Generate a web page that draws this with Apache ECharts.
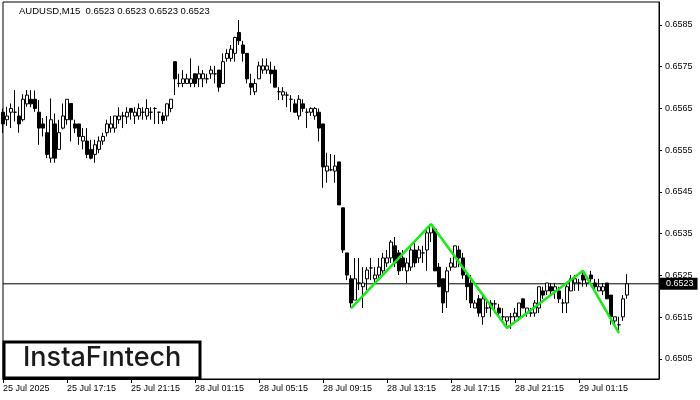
<!DOCTYPE html>
<html><head><meta charset="utf-8">
<script src="https://cdn.jsdelivr.net/npm/echarts@6/dist/echarts.min.js"></script>
<style>html,body{margin:0;padding:0;background:#fff}#c{width:700px;height:400px}</style>
</head><body><div id="c"></div>
<script>
const tickLabels = ['25 Jul 2025','25 Jul 17:15','25 Jul 21:15','28 Jul 01:15','28 Jul 05:15','28 Jul 09:15','28 Jul 13:15','28 Jul 17:15','28 Jul 21:15','29 Jul 01:15'];
const priceTicks = [0.6505,0.6515,0.6525,0.6535,0.6545,0.6555,0.6565,0.6575,0.6585];
const slotCount = 165;
const categories = Array.from({length: slotCount}, (_, i) => String(i));

const opens = [
0.65641,0.65623,0.65641,0.65641,0.65632,0.65623,0.65661,0.65672,0.65672,0.65641,
0.65613,0.65592,0.65531,0.65613,0.65552,0.65603,0.65623,0.65662,0.65613,0.65613,
0.65572,0.65572,0.65552,0.65540,0.65552,0.65572,0.65592,0.65603,0.65603,0.65623,
0.65632,0.65630,0.65650,0.65632,0.65632,0.65641,0.65632,0.65641,0.65650,0.65641,
0.65632,0.65632,0.65650,0.65762,0.65710,0.65710,0.65710,0.65710,0.65733,0.65721,
0.65721,0.65721,0.65733,0.65733,0.65742,0.65710,0.65770,0.65770,0.65782,0.65832,
0.65802,0.65782,0.65710,0.65690,0.65721,0.65742,0.65742,0.65742,0.65742,0.65690,
0.65682,0.65682,0.65672,0.65661,0.65632,0.65661,0.65641,0.65641,0.65632,0.65641,
0.65613,0.65500,0.65503,0.65500,0.65522,0.65412,0.65304,0.65242,0.65191,0.65232,
0.65223,0.65242,0.65268,0.65242,0.65251,0.65261,0.65280,0.65292,0.65321,0.65304,
0.65292,0.65261,0.65270,0.65311,0.65292,0.65304,0.65311,0.65352,0.65361,0.65270,
0.65242,0.65211,0.65270,0.65270,0.65311,0.65292,0.65251,0.65232,0.65172,0.65194,
0.65151,0.65172,0.65184,0.65182,0.65172,0.65151,0.65141,0.65151,0.65151,0.65151,
0.65194,0.65160,0.65160,0.65160,0.65172,0.65213,0.65213,0.65223,0.65213,0.65213,
0.65184,0.65184,0.65213,0.65232,0.65232,0.65251,0.65232,0.65251,0.65232,0.65213,
0.65213,0.65232,0.65203,0.65141,0.65132,0.65151,0.65203];
const closes = [
0.65613,0.65632,0.65650,0.65641,0.65613,0.65672,0.65682,0.65661,0.65650,0.65603,
0.65603,0.65540,0.65623,0.65531,0.65592,0.65632,0.65672,0.65623,0.65603,0.65583,
0.65583,0.65540,0.65531,0.65563,0.65572,0.65583,0.65613,0.65613,0.65632,0.65632,
0.65632,0.65641,0.65641,0.65641,0.65650,0.65641,0.65650,0.65641,0.65650,0.65641,
0.65621,0.65661,0.65672,0.65721,0.65710,0.65721,0.65721,0.65721,0.65710,0.65733,
0.65733,0.65721,0.65742,0.65733,0.65701,0.65762,0.65782,0.65792,0.65820,0.65812,
0.65782,0.65721,0.65701,0.65710,0.65752,0.65752,0.65752,0.65733,0.65701,0.65690,
0.65690,0.65682,0.65672,0.65641,0.65672,0.65650,0.65641,0.65650,0.65650,0.65603,
0.65510,0.65512,0.65503,0.65512,0.65419,0.65311,0.65251,0.65184,0.65242,0.65232,
0.65232,0.65263,0.65268,0.65251,0.65270,0.65292,0.65292,0.65330,0.65280,0.65261,
0.65270,0.65280,0.65311,0.65280,0.65311,0.65304,0.65352,0.65371,0.65261,0.65223,
0.65184,0.65261,0.65280,0.65321,0.65292,0.65251,0.65223,0.65184,0.65184,0.65160,
0.65194,0.65172,0.65172,0.65182,0.65160,0.65151,0.65151,0.65151,0.65160,0.65184,
0.65172,0.65172,0.65160,0.65184,0.65223,0.65203,0.65232,0.65213,0.65223,0.65194,
0.65184,0.65223,0.65242,0.65242,0.65232,0.65239,0.65242,0.65242,0.65223,0.65223,
0.65223,0.65194,0.65151,0.65151,0.65132,0.65194,0.65230];
const lows = [
0.65591,0.65608,0.65603,0.65619,0.65592,0.65619,0.65654,0.65653,0.65642,0.65563,
0.65583,0.65531,0.65520,0.65520,0.65551,0.65600,0.65611,0.65571,0.65591,0.65563,
0.65552,0.65531,0.65528,0.65520,0.65543,0.65563,0.65583,0.65592,0.65592,0.65613,
0.65603,0.65613,0.65623,0.65613,0.65623,0.65623,0.65623,0.65623,0.65613,0.65613,
0.65613,0.65621,0.65641,0.65682,0.65701,0.65701,0.65710,0.65701,0.65701,0.65701,
0.65701,0.65710,0.65721,0.65710,0.65690,0.65710,0.65762,0.65762,0.65762,0.65802,
0.65762,0.65710,0.65682,0.65682,0.65721,0.65733,0.65733,0.65710,0.65701,0.65670,
0.65670,0.65653,0.65642,0.65641,0.65623,0.65642,0.65603,0.65632,0.65623,0.65571,
0.65460,0.65472,0.65500,0.65472,0.65419,0.65304,0.65239,0.65172,0.65191,0.65215,
0.65172,0.65215,0.65239,0.65232,0.65242,0.65251,0.65270,0.65280,0.65270,0.65251,
0.65261,0.65232,0.65261,0.65270,0.65280,0.65280,0.65261,0.65330,0.65261,0.65223,
0.65160,0.65172,0.65261,0.65270,0.65270,0.65242,0.65191,0.65172,0.65172,0.65151,
0.65132,0.65160,0.65151,0.65160,0.65151,0.65141,0.65124,0.65122,0.65141,0.65141,
0.65172,0.65151,0.65151,0.65151,0.65160,0.65194,0.65203,0.65203,0.65194,0.65184,
0.65160,0.65160,0.65213,0.65213,0.65213,0.65223,0.65223,0.65232,0.65213,0.65213,
0.65203,0.65194,0.65132,0.65132,0.65112,0.65141,0.65194];
const highs = [
0.65650,0.65654,0.65662,0.65694,0.65654,0.65684,0.65694,0.65694,0.65693,0.65670,
0.65627,0.65632,0.65674,0.65638,0.65623,0.65662,0.65672,0.65662,0.65623,0.65613,
0.65603,0.65603,0.65575,0.65575,0.65583,0.65592,0.65623,0.65632,0.65632,0.65653,
0.65642,0.65653,0.65650,0.65653,0.65662,0.65653,0.65672,0.65653,0.65653,0.65641,
0.65641,0.65662,0.65672,0.65762,0.65733,0.65742,0.65733,0.65770,0.65733,0.65752,
0.65742,0.65733,0.65752,0.65752,0.65742,0.65782,0.65792,0.65802,0.65822,0.65862,
0.65812,0.65782,0.65733,0.65721,0.65762,0.65770,0.65770,0.65762,0.65752,0.65701,
0.65701,0.65690,0.65682,0.65672,0.65682,0.65672,0.65650,0.65653,0.65653,0.65650,
0.65613,0.65544,0.65541,0.65539,0.65522,0.65412,0.65304,0.65251,0.65292,0.65292,
0.65270,0.65270,0.65292,0.65270,0.65292,0.65304,0.65311,0.65335,0.65342,0.65311,
0.65311,0.65292,0.65321,0.65330,0.65321,0.65321,0.65361,0.65373,0.65361,0.65280,
0.65242,0.65270,0.65292,0.65321,0.65321,0.65304,0.65261,0.65251,0.65191,0.65203,
0.65203,0.65191,0.65191,0.65191,0.65182,0.65172,0.65151,0.65160,0.65172,0.65184,
0.65194,0.65172,0.65172,0.65191,0.65223,0.65223,0.65232,0.65232,0.65232,0.65223,
0.65194,0.65232,0.65251,0.65251,0.65242,0.65261,0.65251,0.65261,0.65242,0.65242,
0.65232,0.65232,0.65203,0.65151,0.65151,0.65203,0.65253];

const patternIdx = [87, 107, 126, 145, 154];
const patternVals = [0.65171, 0.65373, 0.65124, 0.65261, 0.65112];
const lastPrice = 0.6523;
const titleText = 'AUDUSD,M15  0.6523 0.6523 0.6523 0.6523';
const logoText = 'InstaF\u0131ntech';

const candleData = opens.map((o, i) => [o, closes[i], lows[i], highs[i]]);
const patternData = patternIdx.map((x, i) => [x, patternVals[i]]);
const priceLineData = [[0, lastPrice], [slotCount - 1, lastPrice]];

const chart = echarts.init(document.getElementById('c'), null, {renderer: 'canvas'});
const FONT = '"Liberation Sans", Arial, sans-serif';
chart.setOption({
  animation: false,
  backgroundColor: '#fff',
  grid: {left: 3, right: 41, top: 2, bottom: 21, show: true, borderColor: '#000', borderWidth: 1, backgroundColor: 'transparent'},
  xAxis: {
    type: 'category', data: categories, boundaryGap: false,
    axisLine: {show: true, lineStyle: {color: '#000', width: 1}},
    axisTick: {show: true, length: 4, lineStyle: {color: '#000'}, interval: (i) => i % 16 === 0 && i <= 144},
    axisLabel: {show: true, interval: (i) => i % 16 === 0 && i <= 144, formatter: (v, i) => tickLabels[i / 16] || '',
      align: 'left', margin: 5, color: '#000', fontSize: 9, fontFamily: FONT},
    splitLine: {show: false}
  },
  yAxis: {
    type: 'value', position: 'right', min: 0.65002, max: 0.65905, scale: true,
    axisLine: {show: true, lineStyle: {color: '#000', width: 1}},
    axisTick: {show: true, length: 3, inside: false, lineStyle: {color: '#000'}, customValues: priceTicks},
    axisLabel: {show: true, customValues: priceTicks, formatter: (v) => v.toFixed(4), margin: 6,
      color: '#000', fontSize: 9, fontFamily: FONT},
    splitLine: {show: false}
  },
  series: [
    {
      type: 'line', data: priceLineData, symbol: 'none', z: 1, silent: true,
      lineStyle: {color: '#000', width: 1},
      endLabel: {show: true, formatter: () => lastPrice.toFixed(4), distance: 1,
        color: '#fff', backgroundColor: '#000', padding: [2, 4, 1, 6], fontSize: 9, fontFamily: FONT}
    },
    {
      type: 'candlestick', data: candleData, barWidth: 3, clip: true, z: 2,
      itemStyle: {color: '#fff', color0: '#000', borderColor: '#000', borderColor0: '#000', borderWidth: 1}
    },
    {
      type: 'line', data: patternData, symbol: 'none', z: 5,
      lineStyle: {color: '#11ee11', width: 2.5}
    }
  ],
  graphic: [
    {type: 'text', left: 19, top: 6, z: 100,
      style: {text: titleText, fill: '#000', font: '9.5px ' + FONT}},
    {type: 'rect', z: 100, shape: {x: 4, y: 342, width: 196, height: 36},
      style: {fill: '#fff', stroke: '#000', lineWidth: 3}},
    {type: 'text', z: 101, left: 23, top: 344,
      style: {text: logoText, fill: '#1a1a1a', font: '500 27px Inter, sans-serif'}}
  ]
});
</script></body></html>
